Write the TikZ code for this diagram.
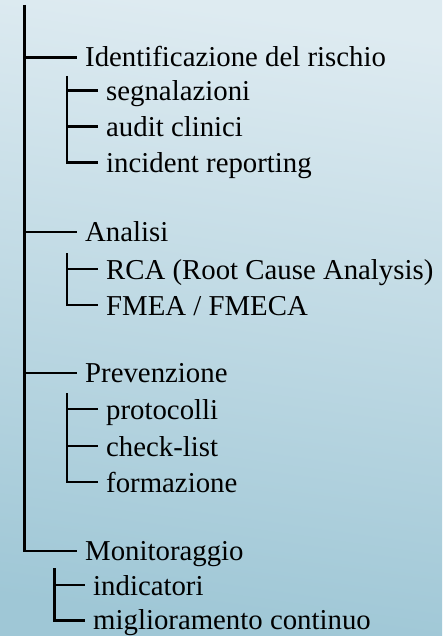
\documentclass[tikz,border=0pt]{standalone}
\usepackage{fontspec}
\setmainfont{Liberation Serif}
\definecolor{bgtop}{HTML}{DEEBF1}
\definecolor{bgbot}{HTML}{9FC7D6}
\begin{document}
\begin{tikzpicture}[x=1pt,y=-1pt,
  tree/.style={line width=2.6pt, black},
  lbl/.style={anchor=base west, inner sep=0pt, font=\fontsize{28.8}{32}\selectfont}]
\shade[top color=bgtop, bottom color=bgbot, shading angle=-8] (0,0) rectangle (442,636);
\useasboundingbox (0,0) rectangle (442,636);
% main trunk
\coordinate (top) at (24.5,5);
\coordinate (m1) at (24.5,57.5);  \coordinate (e1) at (77,57.5);
\coordinate (m2) at (24.5,232);   \coordinate (e2) at (77,232);
\coordinate (m3) at (24.5,373);   \coordinate (e3) at (77,373);
\coordinate (e4) at (77,551);
\node[lbl] (n1) at (85,67) {Identificazione del rischio};
\node[lbl] (n2) at (85,241.5) {Analisi};
\node[lbl] (n3) at (85,382.5) {Prevenzione};
\node[lbl] (n4) at (85,560.5) {Monitoraggio};
\draw[tree] (top) |- (e4);
\draw[tree] (m1) -- (e1);
\draw[tree] (m2) -- (e2);
\draw[tree] (m3) -- (e3);
% Identificazione subs
\coordinate (s1t) at (67,76);
\coordinate (s1a) at (67,90.5);  \coordinate (s1ae) at (98,90.5);
\coordinate (s1b) at (67,126.5); \coordinate (s1be) at (98,126.5);
\coordinate (s1ce) at (98,162.5);
\node[lbl] (a1) at (106,100.5) {segnalazioni};
\node[lbl] (a2) at (106,136.5) {audit clinici};
\node[lbl] (a3) at (106,172.5) {incident reporting};
\draw[tree] (s1t) |- (s1ce);
\draw[tree] (s1a) -- (s1ae);
\draw[tree] (s1b) -- (s1be);
% Analisi subs
\coordinate (s2t) at (67,253);
\coordinate (s2a) at (67,269);  \coordinate (s2ae) at (98,269);
\coordinate (s2be) at (98,305);
\node[lbl] (b1) at (106,279) {RCA (Root Cause Analysis)};
\node[lbl] (b2) at (106,315) {FMEA / FMECA};
\draw[tree] (s2t) |- (s2be);
\draw[tree] (s2a) -- (s2ae);
% Prevenzione subs
\coordinate (s3t) at (67,393);
\coordinate (s3a) at (67,409);  \coordinate (s3ae) at (98,409);
\coordinate (s3b) at (67,446);  \coordinate (s3be) at (98,446);
\coordinate (s3ce) at (98,482);
\node[lbl] (c1) at (106,419) {protocolli};
\node[lbl] (c2) at (106,456) {check-list};
\node[lbl] (c3) at (106,492) {formazione};
\draw[tree] (s3t) |- (s3ce);
\draw[tree] (s3a) -- (s3ae);
\draw[tree] (s3b) -- (s3be);
% Monitoraggio subs
\coordinate (s4t) at (54.5,568);
\coordinate (s4a) at (54.5,585);  \coordinate (s4ae) at (85,585);
\coordinate (s4be) at (85,620.5);
\node[lbl] (d1) at (93,595) {indicatori};
\node[lbl] (d2) at (93,629.5) {miglioramento continuo};
\draw[tree] (s4t) |- (s4be);
\draw[tree] (s4a) -- (s4ae);
\end{tikzpicture}
\end{document}
